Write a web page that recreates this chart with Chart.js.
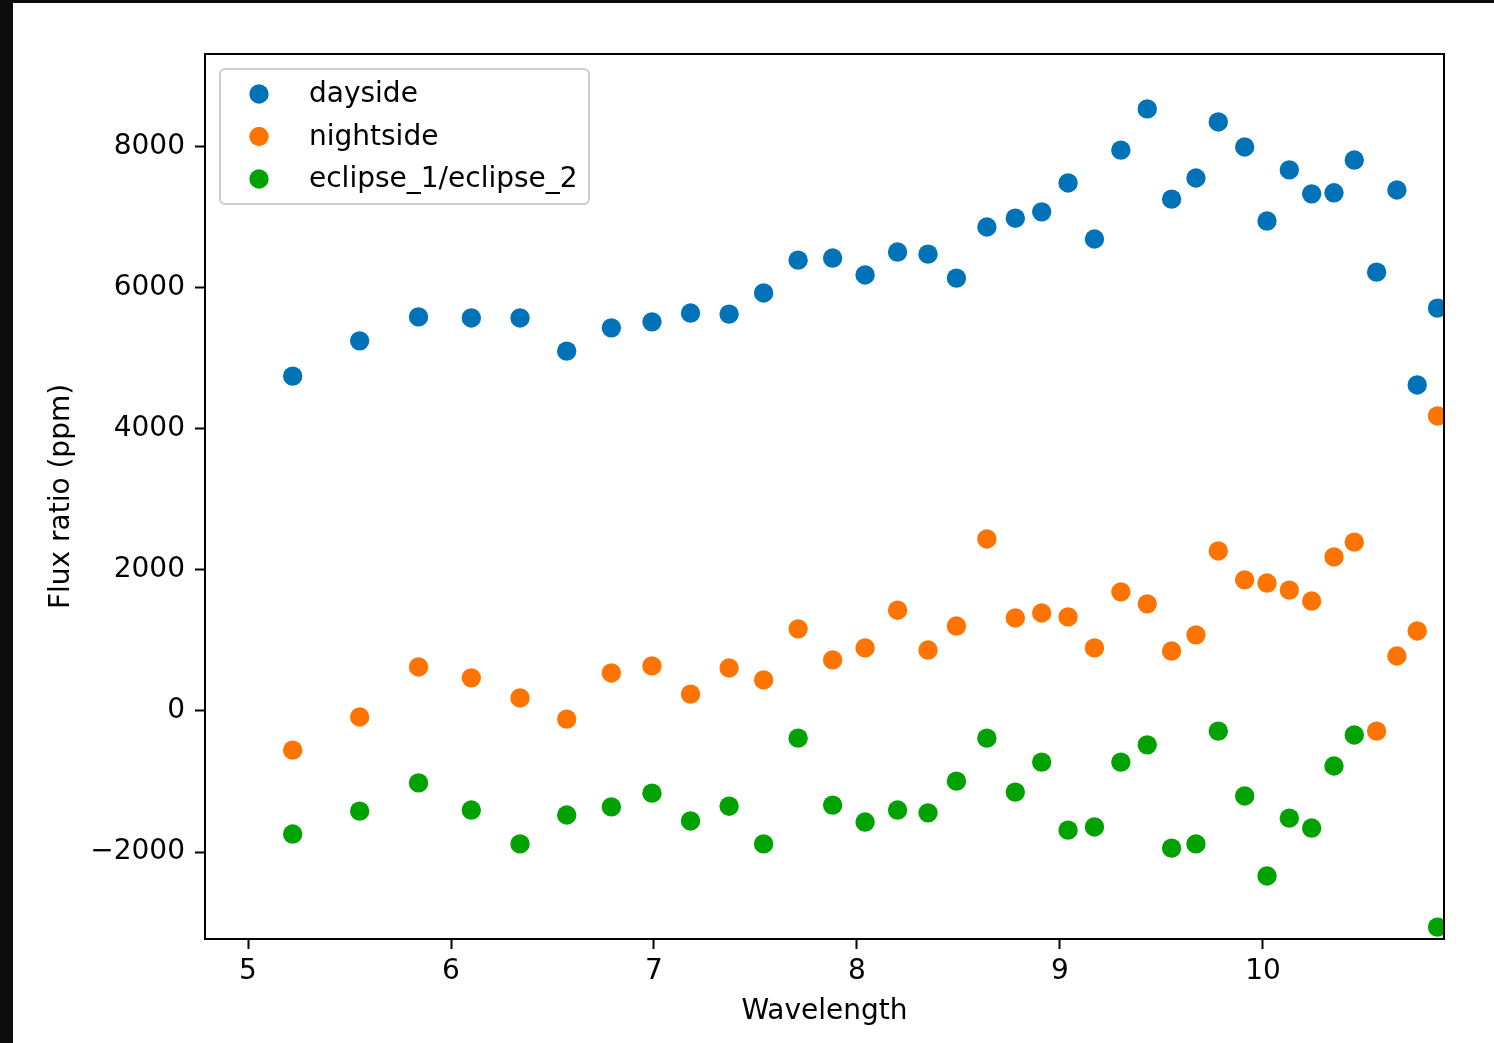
<!DOCTYPE html>
<html>
<head>
<meta charset="utf-8">
<script src="https://cdn.jsdelivr.net/npm/chart.js@4/dist/chart.umd.min.js"></script>
<style>
  html, body { margin: 0; padding: 0; background: #0c0c0c; width: 1494px; height: 1043px; overflow: hidden; }
  #wrap { position: absolute; left: 13px; top: 3px; width: 1481px; height: 1040px; background: #ffffff; }
  canvas { display: block; }
</style>
</head>
<body>
<div id="wrap"><canvas id="c" width="1481" height="1040"></canvas></div>
<script>
const wavelengths = [5.22, 5.55, 5.84, 6.10, 6.34, 6.57, 6.79, 6.99, 7.18, 7.37, 7.54, 7.71, 7.88, 8.04, 8.20, 8.35, 8.49, 8.64, 8.78, 8.91, 9.04, 9.17, 9.30, 9.43, 9.55, 9.67, 9.78, 9.91, 10.02, 10.13, 10.24, 10.35, 10.45, 10.56, 10.66, 10.76, 10.86];
const dayside = [4750, 5250, 5590, 5575, 5575, 5105, 5435, 5520, 5645, 5630, 5930, 6395, 6425, 6185, 6510, 6480, 6140, 6865, 6990, 7080, 7490, 6695, 7955, 8540, 7260, 7560, 8355, 8000, 6950, 7675, 7335, 7350, 7815, 6225, 7390, 4625, 5715];
const nightside = [-555, -85, 625, 470, 185, -115, 540, 640, 240, 610, 440, 1165, 725, 895, 1430, 865, 1205, 2440, 1320, 1390, 1335, 895, 1690, 1520, 850, 1080, 2270, 1860, 1815, 1715, 1560, 2185, 2395, -285, 780, 1135, 4185];
const eclipse = [-1745, -1420, -1020, -1405, -1885, -1475, -1360, -1165, -1560, -1350, -1885, -385, -1335, -1575, -1405, -1445, -995, -385, -1150, -725, -1690, -1645, -725, -480, -1945, -1885, -285, -1205, -2340, -1520, -1660, -780, -340, null, null, null, -3065];
const seriesNames = ['dayside', 'nightside', 'eclipse_1/eclipse_2'];
const seriesColors = ['#0072b8', '#ff7400', '#00a200'];
const xTicks = [5, 6, 7, 8, 9, 10];
const yTicks = [-2000, 0, 2000, 4000, 6000, 8000];
const xLimits = [4.788, 10.892];
const yLimits = [-3234, 9319];
const xTitle = 'Wavelength';
const yTitle = 'Flux ratio (ppm)';

function pts(vals) {
  const out = [];
  vals.forEach((v, i) => { if (v !== null) out.push({x: wavelengths[i], y: v}); });
  return out;
}

Chart.defaults.font.family = "'DejaVu Sans', sans-serif";
Chart.defaults.font.size = 28;
Chart.defaults.color = '#000000';

const legendBox = {
  id: 'legendBox',
  afterDatasetsDraw(chart) {
    const ctx = chart.ctx, a = chart.chartArea;
    const x0 = a.left + 15, y0 = a.top + 15, w = 369, h = 135, r = 5;
    ctx.save();
    ctx.beginPath();
    ctx.moveTo(x0 + r, y0);
    ctx.arcTo(x0 + w, y0, x0 + w, y0 + h, r);
    ctx.arcTo(x0 + w, y0 + h, x0, y0 + h, r);
    ctx.arcTo(x0, y0 + h, x0, y0, r);
    ctx.arcTo(x0, y0, x0 + w, y0, r);
    ctx.closePath();
    ctx.fillStyle = 'rgba(255,255,255,0.8)';
    ctx.fill();
    ctx.strokeStyle = '#cccccc';
    ctx.lineWidth = 2;
    ctx.stroke();
    chart.data.datasets.forEach((ds, i) => {
      const cy = y0 + 25 + i * 42.5;
      ctx.beginPath();
      ctx.arc(x0 + 39, cy, 9.7, 0, Math.PI * 2);
      ctx.fillStyle = ds.backgroundColor;
      ctx.fill();
      ctx.fillStyle = '#000';
      ctx.font = "28px 'DejaVu Sans'";
      ctx.textBaseline = 'middle';
      ctx.textAlign = 'left';
      ctx.fillText(ds.label, x0 + 89, cy + 1);
    });
    ctx.restore();
  }
};

const frame = {
  id: 'frame',
  afterDraw(chart) {
    const ctx = chart.ctx, a = chart.chartArea;
    ctx.save();
    ctx.strokeStyle = '#000';
    ctx.lineWidth = 2;
    ctx.strokeRect(a.left, a.top, a.right - a.left, a.bottom - a.top);
    ctx.restore();
  }
};

new Chart(document.getElementById('c'), {
  type: 'scatter',
  data: {
    datasets: [dayside, nightside, eclipse].map((vals, i) => ({
      label: seriesNames[i],
      data: pts(vals),
      backgroundColor: seriesColors[i],
      borderWidth: 0,
      pointRadius: 9.7,
      pointHoverRadius: 9.7,
      clip: 0
    }))
  },
  options: {
    responsive: false,
    animation: false,
    events: [],
    layout: { padding: { top: 51, right: 50, left: 0, bottom: 0 } },
    plugins: { legend: { display: false }, tooltip: { enabled: false } },
    scales: {
      x: {
        type: 'linear',
        min: xLimits[0], max: xLimits[1],
        afterFit(s) { s.height = 104; },
        afterBuildTicks(s) { s.ticks = xTicks.map(v => ({value: v})); },
        ticks: { includeBounds: false, padding: 6, callback: v => String(v), maxRotation: 0, autoSkip: false },
        grid: { drawOnChartArea: false, drawTicks: true, tickLength: 10, tickWidth: 2, tickColor: '#000' },
        border: { display: true, color: '#000', width: 2 },
        title: { display: true, text: xTitle, padding: { top: 0, bottom: 14 } }
      },
      y: {
        type: 'linear',
        min: yLimits[0], max: yLimits[1],
        afterFit(s) { s.width = 192; },
        afterBuildTicks(s) { s.ticks = yTicks.map(v => ({value: v})); },
        ticks: { includeBounds: false, padding: 10, callback: v => (v < 0 ? '\u2212' + Math.abs(v) : String(v)), autoSkip: false },
        grid: { drawOnChartArea: false, drawTicks: true, tickLength: 10, tickWidth: 2, tickColor: '#000' },
        border: { display: true, color: '#000', width: 2 },
        title: { display: true, text: yTitle, padding: { top: 32, bottom: 0 } }
      }
    }
  },
  plugins: [legendBox, frame]
});
</script>
</body>
</html>
